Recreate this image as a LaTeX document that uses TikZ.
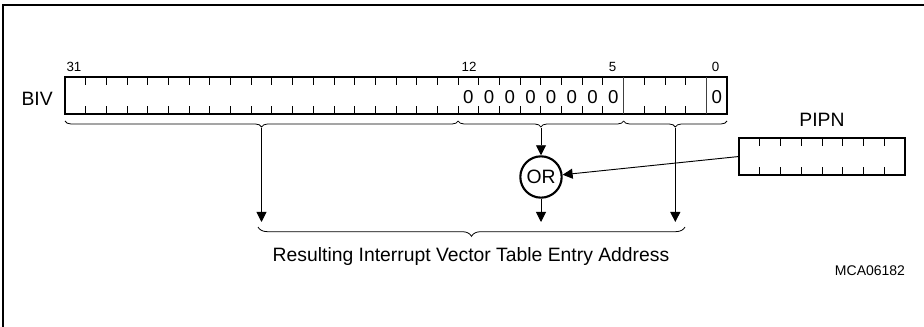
\documentclass[tikz,border=0pt]{standalone}
\usepackage{fontspec}
\setmainfont{Liberation Sans}
\usetikzlibrary{arrows.meta,calc,decorations.pathreplacing,positioning}

\begin{document}
\begin{tikzpicture}[x=0.75pt, y=-0.75pt,
  every node/.style={font=\fontsize{14.5}{17}\selectfont, inner sep=0pt},
  reg/.style={draw, line width=1.6pt, outer sep=0pt},
  tick/.style={line width=0.6pt},
  bitnum/.style={font=\fontsize{10}{12}\selectfont},
  zero/.style={font=\fontsize{14}{16}\selectfont},
  brc/.style={decorate, decoration={brace, mirror, amplitude=4.5pt}, line width=0.6pt},
  arr/.style={line width=0.7pt, -{Triangle[length=7.5pt, width=7.5pt]}}]

  \useasboundingbox (0,0) rectangle (924,327);

  % Frame (top and left)
  \draw[line width=1pt] (924,5) -- (3,5) -- (3,327);

  % BIV register
  \node[reg, minimum width=496.5pt, minimum height=27.75pt] (biv) at (396,95.5) {};
  \node[anchor=east] (bivlbl) at (53,99) {BIV};
  \foreach \i in {1,...,26,28,29,30} {
    \draw[tick] ($(biv.north west)+(\i*20.6875,0)$) -- ++(0,8);
    \draw[tick] ($(biv.south west)+(\i*20.6875,0)$) -- ++(0,-8);
  }
  \draw[tick, black!75] ($(biv.north west)+(27*20.6875,0)$) -- ($(biv.south west)+(27*20.6875,0)$);
  \draw[tick, black!75] ($(biv.north west)+(31*20.6875,0)$) -- ($(biv.south west)+(31*20.6875,0)$);

  % Bit numbers
  \node[bitnum] (n31) at (74,67) {31};
  \node[bitnum] (n12) at (469,67) {12};
  \node[bitnum] (n5) at (612.5,67) {5};
  \node[bitnum] (n0) at (715.5,67) {0};

  % Fixed zero bits
  \foreach \b in {5,...,12}
    \node[zero] at (65+31.5*20.6875-\b*20.6875,97) {0};
  \node[zero] (z0) at (716.7,97) {0};

  % Braces under BIV
  \draw[brc] (65,121) -- (458.1,121);
  \draw[brc] (458.1,121) -- (623.6,121);
  \draw[brc] (623.6,121) -- (727,121);
  \coordinate (t1) at (261.5,128);
  \coordinate (t2) at (541,128);
  \coordinate (t3) at (675.3,128);

  % OR gate
  \node[circle, draw, line width=1.6pt, minimum size=31pt] (orgate) at (541,177) {OR};

  % PIPN register
  \node[reg, minimum width=124.5pt, minimum height=27.75pt] (pipn) at (822,156.5) {};
  \node (pipnlbl) at (822,120) {PIPN};
  \foreach \i in {1,...,7} {
    \draw[tick] ($(pipn.north west)+(\i*20.75,0)$) -- ++(0,8);
    \draw[tick] ($(pipn.south west)+(\i*20.75,0)$) -- ++(0,-8);
  }

  % Arrows
  \coordinate (e1) at (261.5,222);
  \coordinate (e2) at (541,222);
  \coordinate (e3) at (675.3,222);
  \draw[arr] (t1) -- (e1);
  \draw[arr] (t2) -- (orgate);
  \draw[arr] (orgate) -- (e2);
  \draw[arr] (t3) -- (e3);
  \draw[arr] (pipn.west) -- (orgate);

  % Resulting address
  \draw[decorate, decoration={brace, mirror, amplitude=7pt}, line width=0.6pt] (258,227) -- (685,227);
  \node (result) at (471,257) {Resulting Interrupt Vector Table Entry Address};

  \node[font=\fontsize{10.5}{12}\selectfont] (mca) at (870,271) {MCA06182};
\end{tikzpicture}
\end{document}
